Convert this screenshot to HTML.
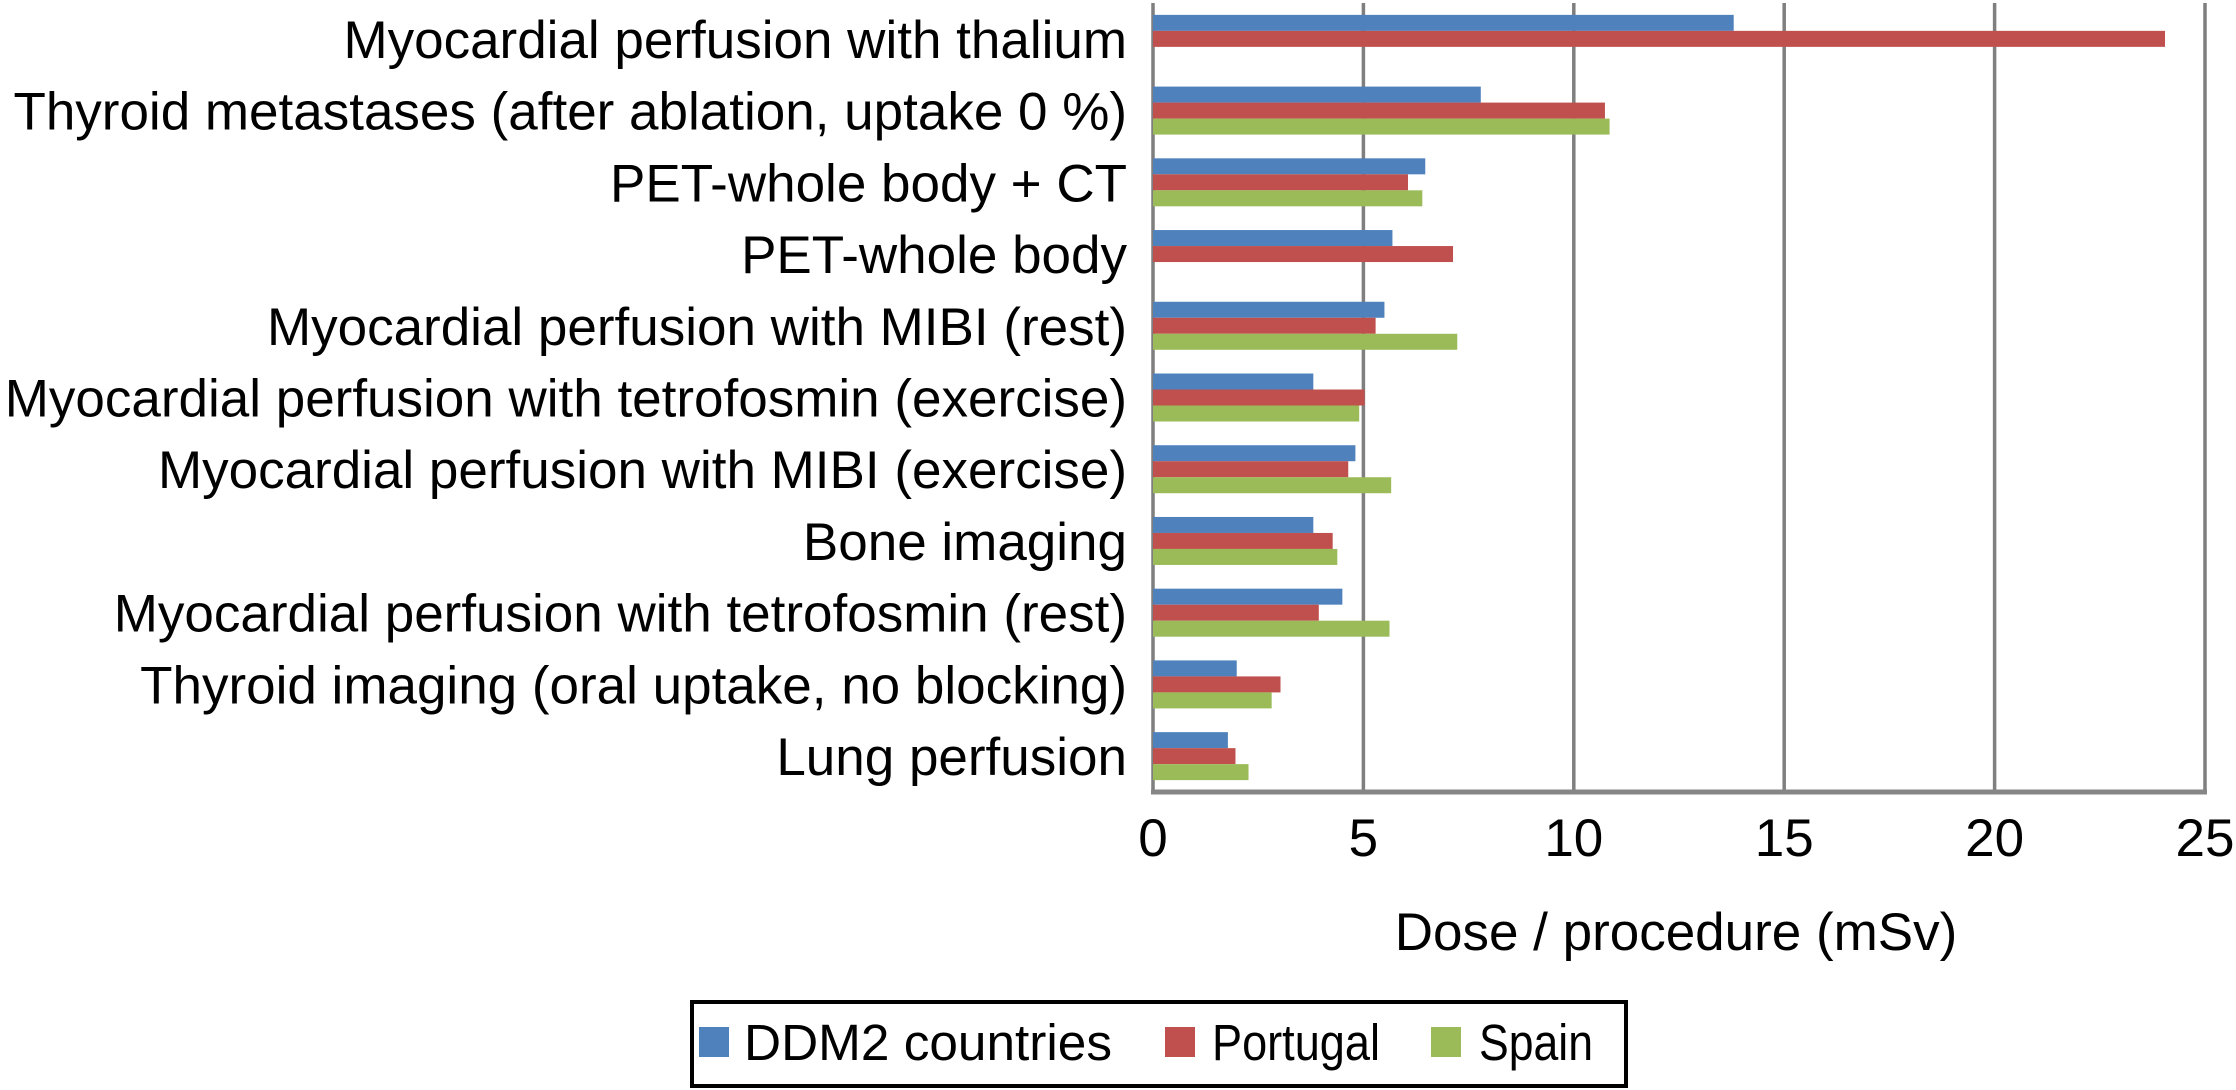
<!DOCTYPE html>
<html><head><meta charset="utf-8"><style>
html,body{margin:0;padding:0;background:#fff;}
svg{display:block;font-family:"Liberation Sans",Arial,sans-serif;}
</style></head><body>
<svg id="chart" width="2236" height="1090" viewBox="0 0 2236 1090" xmlns="http://www.w3.org/2000/svg">
<g id="grid"></g>
<g id="bars"></g>
<g id="ylabels"></g>
<g id="xticks"></g>
<text x="1676" y="950" font-size="53" text-anchor="middle">Dose / procedure (mSv)</text>
<g>
<rect x="692" y="1002" width="934" height="84" fill="#fff" stroke="#000" stroke-width="4"/>
<rect x="699" y="1027" width="30" height="30" fill="#4F81BD"/>
<text x="744" y="1060" font-size="51" textLength="368" lengthAdjust="spacingAndGlyphs">DDM2 countries</text>
<rect x="1165" y="1027" width="30" height="30" fill="#C0504D"/>
<text x="1212" y="1060" font-size="51" textLength="168" lengthAdjust="spacingAndGlyphs">Portugal</text>
<rect x="1431" y="1027" width="30" height="30" fill="#9BBB59"/>
<text x="1479" y="1060" font-size="51" textLength="114" lengthAdjust="spacingAndGlyphs">Spain</text>
</g>
</svg>
<script>
const categories = ["Myocardial perfusion with thalium","Thyroid metastases (after ablation, uptake 0 %)","PET-whole body + CT","PET-whole body","Myocardial perfusion with MIBI (rest)","Myocardial perfusion with tetrofosmin (exercise)","Myocardial perfusion with MIBI (exercise)","Bone imaging","Myocardial perfusion with tetrofosmin (rest)","Thyroid imaging (oral uptake, no blocking)","Lung perfusion"];
const ddm2 = [13.8,7.79,6.47,5.69,5.5,3.81,4.81,3.81,4.5,1.99,1.78];
const portugal = [24.05,10.74,6.06,7.13,5.29,5.03,4.64,4.27,3.94,3.03,1.96];
const spain = [null,10.85,6.4,null,7.23,4.9,5.66,4.38,5.62,2.82,2.27];
const xTicks = [0,5,10,15,20,25];
const seriesNames = ["ddm2","portugal","spain"];
const NS="http://www.w3.org/2000/svg";
const X0=1153,X1=2205,Y0=3,Y1=792,XMAX=25;
const xs=v=>X0+(X1-X0)*v/XMAX;
const band=(Y1-Y0)/categories.length;
const BH=16;
function mk(tag,attrs,parent){const e=document.createElementNS(NS,tag);for(const k in attrs)e.setAttribute(k,attrs[k]);parent.appendChild(e);return e;}
const grid=document.getElementById('grid');
xTicks.forEach(t=>{
  const l=mk('line',{x1:xs(t),x2:xs(t),y1:Y0,y2:Y1,stroke:'#7f7f7f','stroke-width':3.5},grid);
  
  
  const tx=mk('text',{x:xs(t),y:856,'font-size':53,'text-anchor':'middle'},document.getElementById('xticks'));
  tx.textContent=t;
  
  
});
const ax=mk('line',{x1:X0-2,x2:X1+2,y1:Y1,y2:Y1,stroke:'#868686','stroke-width':5},grid);


const series=[ddm2,portugal,spain];
const colors=["#4F81BD","#C0504D","#9BBB59"];
const bars=document.getElementById('bars');
categories.forEach((c,i)=>{
  const top=Y0+band*i+(band-3*BH)/2;
  series.forEach((s,j)=>{
    if(s[i]==null)return;
    const r=mk('rect',{x:X0,y:top+j*BH,width:xs(s[i])-X0,height:BH,fill:colors[j]},bars);
    
    
  });
  const t=mk('text',{x:1127,y:Y0+band*(i+0.5)+19,'font-size':53,'text-anchor':'end'},document.getElementById('ylabels'));
  t.textContent=c;
  
  
});
</script>
</body></html>
